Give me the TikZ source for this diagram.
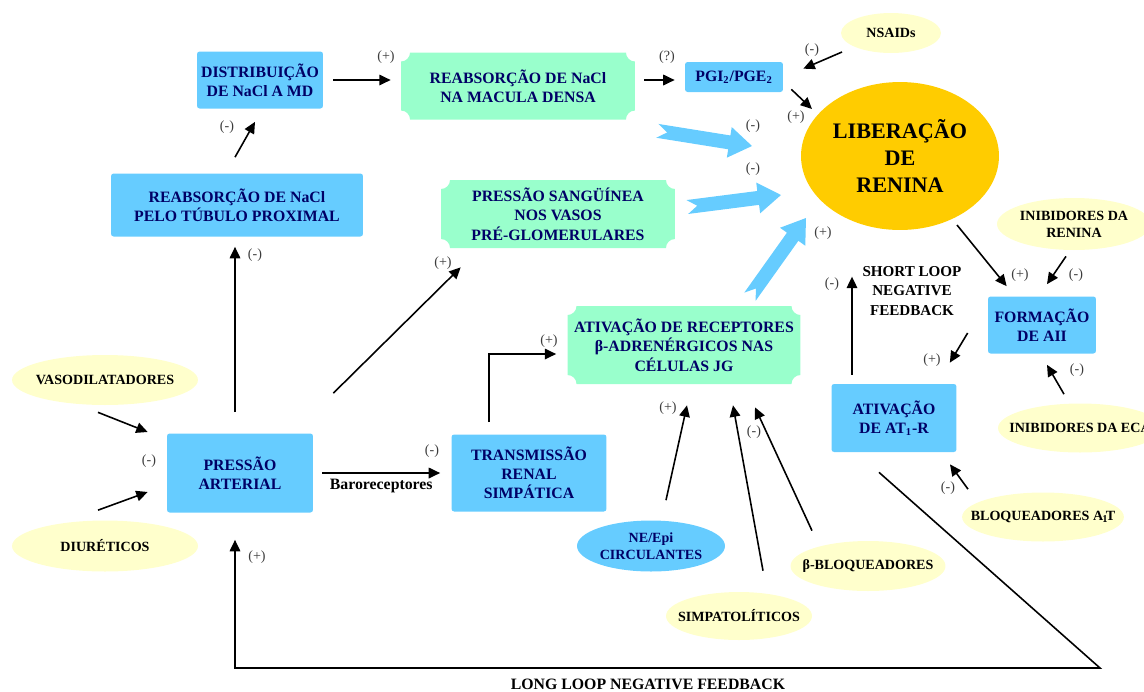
\documentclass[tikz,border=0pt]{standalone}
\usepackage{fontspec}
\setmainfont{Liberation Serif}
\usepackage{tikz}
\usetikzlibrary{arrows.meta,shapes.geometric,calc}
\definecolor{boxblue}{RGB}{102,204,255}
\definecolor{mintgreen}{RGB}{153,255,204}
\definecolor{paleyellow}{RGB}{255,255,204}
\definecolor{reningold}{RGB}{255,204,0}
\definecolor{navytext}{RGB}{0,0,102}
\definecolor{signgray}{RGB}{60,60,60}
\newcommand{\fatarrow}[2]{%
  \coordinate (fatbase) at ($(#2)!0.46cm!(#1)$);
  \fill[boxblue] ($(#1)!0.14cm!90:(#2)$) -- ($(fatbase)!0.14cm!90:(#2)$) -- ($(fatbase)!0.31cm!90:(#2)$) -- (#2)
    -- ($(fatbase)!0.31cm!-90:(#2)$) -- ($(fatbase)!0.14cm!-90:(#2)$) -- ($(#1)!0.14cm!-90:(#2)$)
    -- ($(#1)!0.2cm!(#2)$) -- cycle;}

\begin{document}
\begin{tikzpicture}[x=0.02cm, y=-0.02cm,
  >={Triangle[width=6pt,length=6.5pt]},
  link/.style={->, line width=0.9pt},
  bluebox/.style={fill=boxblue, rounded corners=1.5pt, align=center, inner sep=0pt,
    text=navytext, font=\bfseries\fontsize{9}{10.9}\selectfont},
  mintbox/.style={align=center, inner sep=0pt, text=navytext,
    font=\bfseries\fontsize{9}{11}\selectfont,
    path picture={
      \fill[mintgreen] ($(path picture bounding box.north west)+(0,-0.18cm)$)
        arc[start angle=-90, end angle=0, radius=0.18cm]
        -- ($(path picture bounding box.north east)+(-0.18cm,0)$)
        arc[start angle=180, end angle=270, radius=0.18cm]
        -- ($(path picture bounding box.south east)+(0,0.18cm)$)
        arc[start angle=90, end angle=180, radius=0.18cm]
        -- ($(path picture bounding box.south west)+(0.18cm,0)$)
        arc[start angle=0, end angle=90, radius=0.18cm]
        -- cycle;
    }},
  drug/.style={ellipse, fill=paleyellow, inner xsep=-0.3cm, inner ysep=0pt, align=center,
    font=\bfseries\fontsize{8}{9.6}\selectfont},
  sign/.style={text=signgray, inner sep=0pt, font=\fontsize{8}{9}\selectfont},
  caption/.style={align=center, inner sep=0pt, font=\bfseries\fontsize{8.6}{11}\selectfont},
]
  \useasboundingbox (0,0) rectangle (1144,691);
  \clip (0,0) rectangle (1144,691);

  \node[bluebox, minimum width=2.52cm, minimum height=1.14cm] (distrib) at (260,80) {DISTRIBUIÇÃO\\DE NaCl A MD};
  \node[bluebox, minimum width=5.04cm, minimum height=1.26cm] (reabsprox) at (237,205) {REABSORÇÃO DE NaCl\\PELO TÚBULO PROXIMAL};
  \node[mintbox, minimum width=4.68cm, minimum height=1.34cm] (reabsmd) at (518,86) {REABSORÇÃO DE NaCl\\NA MACULA DENSA};
  \node[bluebox, minimum width=1.96cm, minimum height=0.6cm] (pgi) at (734,77) {PGI\textsubscript{2}/PGE\textsubscript{2}};
  \node[drug, minimum width=2cm, minimum height=0.8cm] (nsaids) at (891,33) {NSAIDs};
  \node[ellipse, fill=reningold, inner sep=0pt, minimum width=3.96cm, minimum height=2.96cm, align=center,
    font=\bfseries\fontsize{12.6}{15.5}\selectfont] (renina) at (900,156) {LIBERAÇÃO\\DE\\RENINA};
  \node[mintbox, minimum width=4.68cm, minimum height=1.36cm] (pressang) at (558,214) {PRESSÃO SANGÜÍNEA\\NOS VASOS\\PRÉ-GLOMERULARES};
  \node[drug, minimum width=3.08cm, minimum height=1.04cm] (inibren) at (1074,224) {INIBIDORES DA\\RENINA};
  \node[bluebox, minimum width=2.16cm, minimum height=1.14cm] (formacao) at (1042,325) {FORMAÇÃO\\DE AII};
  \node[bluebox, minimum width=2.5cm, minimum height=1.36cm] (at1r) at (894,418) {ATIVAÇÃO\\DE AT\textsubscript{1}-R};
  \node[drug, minimum width=3.28cm, minimum height=0.98cm] (inibeca) at (1080,428) {INIBIDORES DA ECA};
  \node[drug, minimum width=3.08cm, minimum height=0.98cm] (bloqat) at (1043,517) {BLOQUEADORES A\kern-0.5pt\textsubscript{1}\kern-1.5pt T};
  \node[caption] (shortloop) at (912,291) {SHORT LOOP\\NEGATIVE\\FEEDBACK};
  \node[drug, minimum width=3.72cm, minimum height=1cm] (vaso) at (105,380) {VASODILATADORES};
  \node[drug, minimum width=3.72cm, minimum height=1.02cm] (diur) at (105,546) {DIURÉTICOS};
  \node[bluebox, minimum width=2.92cm, minimum height=1.58cm] (pressart) at (240,473) {PRESSÃO\\ARTERIAL};
  \node[bluebox, minimum width=3.1cm, minimum height=1.54cm] (transm) at (529,473) {TRANSMISSÃO\\RENAL\\SIMPÁTICA};
  \node[mintbox, minimum width=4.66cm, minimum height=1.56cm] (receptores) at (684,345) {ATIVAÇÃO DE RECEPTORES\\β-ADRENÉRGICOS NAS\\CÉLULAS JG};
  \node[drug, fill=boxblue, text=navytext, minimum width=2.96cm, minimum height=1.02cm] (neepi) at (651,546) {NE/Epi\\CIRCULANTES};
  \node[drug, minimum width=2.92cm, minimum height=0.96cm] (simpat) at (739,616) {SIMPATOLÍTICOS};
  \node[drug, minimum width=3.1cm, minimum height=1cm] (betabloq) at (868,566) {β-BLOQUEADORES};
  \node[caption, font=\bfseries\fontsize{9}{11}\selectfont] (longloop) at (648,684) {LONG LOOP NEGATIVE FEEDBACK};

  % big arrows into renin release
  \coordinate (mdtail) at ($(reabsmd.south east)+(22,11)$);
  \coordinate (mdhead) at ($(renina)+(-148,-10)$);
  \coordinate (pstail) at ($(pressang.east)+(12,-7)$);
  \coordinate (pshead) at ($(renina)+(-119,39)$);
  \coordinate (betatail) at ($(receptores.north)+(66,-9)$);
  \coordinate (betahead) at ($(renina)+(-94,62)$);
  \fatarrow{mdtail}{mdhead}
  \fatarrow{pstail}{pshead}
  \fatarrow{betatail}{betahead}

  \draw[link] ($(reabsprox.north)+(-2,-16)$) -- ($(distrib.south)+(-5,13)$);
  \draw[link] ($(distrib.east)+(10,0)$) -- ($(reabsmd.west)+(-10,-6)$);
  \draw[link] ($(reabsmd.east)+(9,-6)$) -- ($(pgi.west)+(-10,3)$);
  \draw[link] ($(pgi.south east)+(8,-3)$) -- ($(renina)+(-88,-47)$);
  \draw[link] ($(nsaids)+(-49,19)$) -- ($(pgi.north east)+(20,7)$);

  \draw[link] ($(renina)+(57,69)$) -- ($(formacao.north west)+(19,-10)$);
  \draw[link] ($(inibren.south)+(-8,6)$) -- ($(formacao.north)+(5,-12)$);
  \draw[link] ($(inibeca.north)+(-16,-9)$) -- ($(formacao.south)+(5,11)$);
  \draw[link] ($(formacao.west)+(-20,8)$) -- ($(at1r.north east)+(-7,-21)$);
  \draw[link] ($(at1r.north)+(-42,-9)$) -- ($(at1r.north)+(-42,-107)$);
  \draw[link] ($(bloqat.north)+(-75,-3)$) -- ($(at1r.south)+(56,12)$);

  \coordinate (loopcorner) at (1100,668);
  \draw[link] ($(at1r.south)+(-15,20)$) -- (loopcorner) -| ($(pressart.south)+(-5,27)$);

  \draw[link] ($(vaso.south)+(-7,7)$) -- ($(pressart.west)+(-19,-41)$);
  \draw[link] ($(diur.north)+(-7,-10)$) -- ($(pressart.west)+(-19,19)$);
  \draw[link] ($(pressart.north)+(-5,-21)$) -- ($(reabsprox.south)+(-2,10)$);
  \draw[link] ($(pressart.north east)+(20,-40)$) -- ($(pressang.south west)+(20,19)$);
  \draw[link] ($(pressart.east)+(9,0)$) -- node[below=3pt, inner sep=0pt, font=\bfseries\fontsize{9}{11}\selectfont] (baro) {Baroreceptores} ($(transm.west)+(-11,0)$);
  \draw[link] ($(transm.north)+(-40,-12)$) |- ($(receptores.west)+(-11,9)$);
  \draw[link] ($(neepi.north)+(15,-20)$) -- ($(receptores.south)+(3,21)$);
  \draw[link] ($(simpat.north)+(24,-21)$) -- ($(receptores.south)+(49,21)$);
  \draw[link] ($(betabloq.north)+(-56,-10)$) -- ($(receptores.south)+(71,23)$);

  \foreach \x/\y/\s [count=\k] in {386/57/(+),667/57/(?),796/117/(+),812/50/(-),753/126/(-),753/169/(-),
      823/233/(+),1020/275/(+),1076/275/(-),1077/370/(-),932/360/(+),832/284/(-),948/488/(-),
      257/557/(+),149/461/(-),255/255/(-),443/263/(+),432/451/(-),549/341/(+),668/408/(+),754/432/(-),227/127/(-)}
   {
    \node[sign] (sign\k) at (\x,\y) {\s};
   }
\end{tikzpicture}
\end{document}
